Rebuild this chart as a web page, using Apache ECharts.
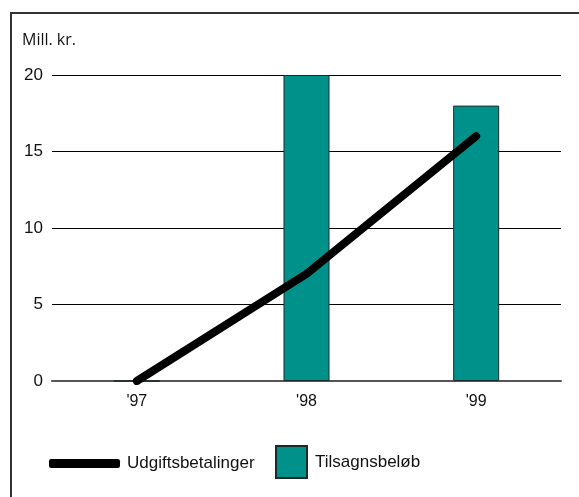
<!DOCTYPE html>
<html><head><meta charset="utf-8">
<script src="https://cdn.jsdelivr.net/npm/echarts@6/dist/echarts.min.js"></script>
<style>html,body{margin:0;padding:0;background:#fff}#c{width:579px;height:497px}</style>
</head><body><div id="c"></div>
<script>
const categories = ["'97", "'98", "'99"];
const udgifter = [0, 7, 16];
const tilsagn = [0, 20, 18];
const yTicks = [0, 5, 10, 15, 20];
const unitLabel = 'Mill. kr.';
const lineName = 'Udgiftsbetalinger';
const barName = 'Tilsagnsbeløb';

const chart = echarts.init(document.getElementById('c'));
const font = 'Liberation Sans, Arial, sans-serif';
chart.setOption({
  animation: false,
  grid: { left: 52, right: 18, top: 75, bottom: 116, containLabel: false },
  graphic: [
    { type: 'rect', shape: { x: 11, y: 13, width: 620, height: 600 },
      style: { fill: 'none', stroke: '#333', lineWidth: 2 }, silent: true },
    { type: 'text', left: 22, top: 32,
      style: { text: unitLabel, font: '16px "Open Sans", sans-serif', fill: '#111' } }
  ],
  legend: [
    { left: 49, top: 455, padding: 0, itemWidth: 71, itemHeight: 9,
      textStyle: { fontFamily: font, fontSize: 17, color: '#111', padding: [0, 0, 0, 2] },
      data: [{ name: lineName, icon: 'roundRect', itemStyle: { color: '#000' } }] },
    { left: 275, top: 445, padding: 0, itemWidth: 31, itemHeight: 32,
      textStyle: { fontFamily: font, fontSize: 17, color: '#111', padding: [0, 0, 0, 3] },
      data: [{ name: barName, icon: 'rect' }] }
  ],
  xAxis: {
    type: 'category', data: categories, boundaryGap: true,
    axisLine: { lineStyle: { color: '#555', width: 2 } },
    axisTick: { show: false },
    axisLabel: { fontFamily: font, fontSize: 16, color: '#111', margin: 13 }
  },
  yAxis: {
    type: 'value', min: yTicks[0], max: yTicks[yTicks.length - 1], interval: 5,
    axisLine: { show: false }, axisTick: { show: false },
    axisLabel: { fontFamily: font, fontSize: 17, color: '#111', margin: 9 },
    splitLine: { lineStyle: { color: '#000', width: 1 } }
  },
  series: [
    { name: barName, type: 'bar', data: tilsagn, barWidth: 46, z: 2,
      itemStyle: { color: '#00928A', borderColor: '#1a2a2a', borderWidth: 1 } },
    { name: lineName, type: 'line', data: udgifter, z: 3,
      symbol: 'none', lineStyle: { color: '#000', width: 8, cap: 'round', join: 'round' },
      itemStyle: { color: '#000' } }
  ]
});
</script></body></html>
